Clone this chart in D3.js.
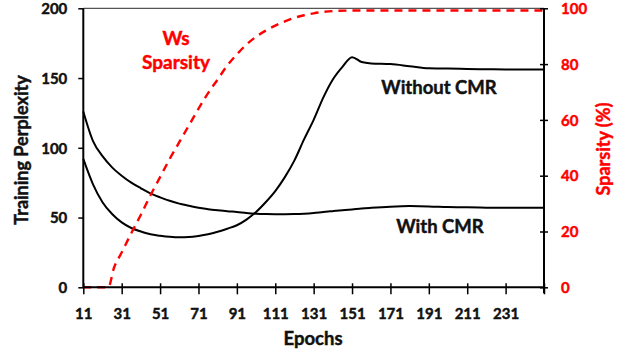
<!DOCTYPE html>
<html><head><meta charset="utf-8">
<script src="https://cdn.jsdelivr.net/npm/d3@7"></script>
<style>body{margin:0;background:#fff}svg{display:block;font-family:Lato,"Open Sans",sans-serif;font-weight:bold}svg text{stroke-width:0.45px;paint-order:stroke}</style>
</head><body><svg id="c" width="624" height="354"></svg>
<script>
const epochs = [11,16,21,26,31,36,41,46,51,56,61,66,71,76,81,86,91,96,101,106,111,116,121,126,131,136,141,146,151,156,161,171,181,191,201,211,221,231,241,251];
const withoutCMR = [92,74,61,52.5,46.5,42.5,40,38,37,36.2,35.8,36,36.8,38,39.8,42,44.5,48.5,54,61,69,79,91,106,120,136,149,158,165,161.5,160.5,160,158.5,157,156.8,156.5,156.3,156.2,156.2,156.2];
const withCMR = [126,105,94,86,80,75,71,67.3,64.5,62,60,58.5,57,56,55.2,54.5,54,53.3,52.8,52.5,52.4,52.4,52.5,52.8,53.3,54,54.6,55.2,55.8,56.5,57,57.8,58.2,58,57.5,57.3,57.1,57,57,57];
const sparsEpochs = [11,21,24,27,31,36,41,46,51,56,61,66,71,76,81,86,91,96,101,106,111,116,121,126,131,136,141,151,201,251];
const sparsity = [0,0,0,7,12.5,19.4,26,33,39.5,46,52,58,64,69.6,74.5,79.5,83.5,87,89.8,92,93.8,95.3,96.6,97.5,98.2,98.7,99,99.2,99.2,99.2];
const xTicks = [11,31,51,71,91,111,131,151,171,191,211,231,251];
const yTicks = [0,50,100,150,200];
const y2Ticks = [0,20,40,60,80,100];

const svg = d3.select("#c");
const L = 83.3, R = 544, T = 8.3, B = 287.3;
const x = d3.scaleLinear().domain([11,251]).range([L,R]);
const y = d3.scaleLinear().domain([0,200]).range([B,T]);
const y2 = d3.scaleLinear().domain([0,100]).range([B,T]);

// top border
svg.append("line").attr("x1",L).attr("x2",R).attr("y1",T).attr("y2",T).attr("stroke","#555").attr("stroke-width",1.2);

const line = d3.line().x((d,i)=>x(epochs[i])).y(d=>y(d)).curve(d3.curveMonotoneX);
svg.append("path").datum(withCMR).attr("d",line).attr("fill","none").attr("stroke","#000").attr("stroke-width",2);
svg.append("path").datum(withoutCMR).attr("d",line).attr("fill","none").attr("stroke","#000").attr("stroke-width",2);
const sline = d3.line().x((d,i)=>x(sparsEpochs[i])).y(d=>y2(d)).curve(d3.curveMonotoneX);
svg.append("path").datum(sparsity).attr("d",sline).attr("fill","none").attr("stroke","#ff0000").attr("stroke-width",2.4).attr("stroke-dasharray","8,6");

// axes
const gx = svg.append("g").attr("transform",`translate(0,${B})`)
  .call(d3.axisBottom(x).tickValues(xTicks).tickSize(7).tickFormat(d=>d===251?"":d));
gx.selectAll(".tick line").attr("y1",-4).attr("y2",7);
const gy = svg.append("g").attr("transform",`translate(${L},0)`)
  .call(d3.axisLeft(y).tickValues(yTicks).tickSize(5));
const gy2 = svg.append("g").attr("transform",`translate(${R},0)`)
  .call(d3.axisRight(y2).tickValues(y2Ticks).tickSize(4));
gy2.selectAll(".tick line").attr("x1",-4).attr("x2",4);
[gx,gy,gy2].forEach(g=>{
  g.select(".domain").attr("stroke","#000").attr("stroke-width",2);
  g.selectAll(".tick line").attr("stroke","#000").attr("stroke-width",1.5);
  g.selectAll("text").attr("font-family","Lato, sans-serif").attr("font-weight","bold").attr("font-size",15).attr("fill","#111").attr("stroke","#111");
});
gy.select(".domain").attr("d",`M0,${B}V${T}`);
gy2.select(".domain").attr("d",`M0,${B+6}V${T}`);
gx.select(".domain").attr("d",`M${L},0H${R}`);
gx.selectAll("text").attr("dy",null).attr("y",null).attr("transform","translate(0,32)");
gy.selectAll("text").attr("x",-16).attr("dy","0.35em");
gy2.selectAll("text").attr("x",17).attr("dy","0.35em").attr("fill","#ff0000").attr("stroke","#ff0000");

// titles
function label(t, col){ return svg.append("text").attr("fill",col).attr("stroke",col).attr("text-anchor","middle").text(t); }
label("Training Perplexity","#111").attr("transform","translate(28,150) rotate(-90)").attr("font-size",18);
label("Sparsity (%)","#ff0000").attr("transform","translate(610,149) rotate(-90)").attr("font-size",18);
label("Epochs","#111").attr("x",313).attr("y",345).attr("font-size",18.5);

// annotations
label("Ws","#ff0000").attr("x",176).attr("y",45).attr("font-size",19);
label("Sparsity","#ff0000").attr("x",176).attr("y",69).attr("font-size",19);
label("Without CMR","#111").attr("x",439).attr("y",94).attr("font-size",18.5);
label("With CMR","#111").attr("x",440).attr("y",233).attr("font-size",18.5);
</script></body></html>
